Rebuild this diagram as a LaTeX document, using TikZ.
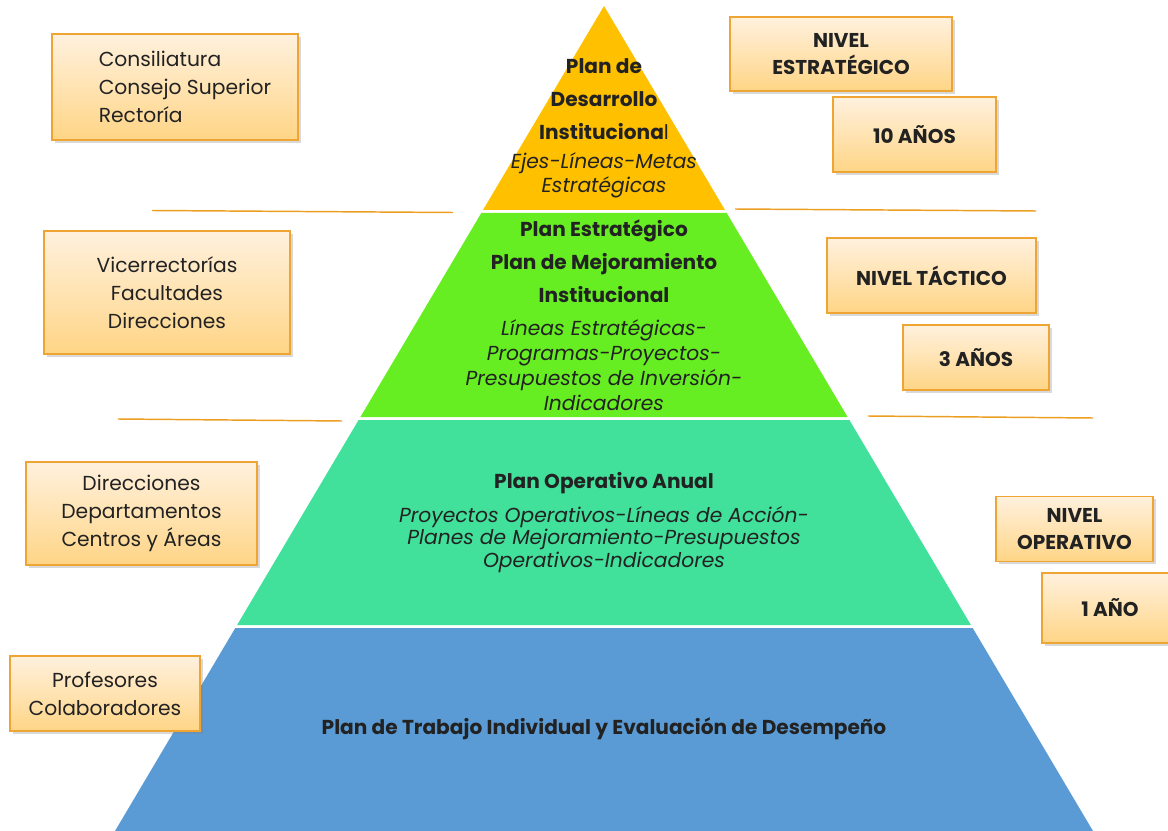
\documentclass[tikz,border=0pt]{standalone}
\usepackage{fontspec}
\setmainfont{Poppins}
\usetikzlibrary{shadows}

\definecolor{boxline}{HTML}{EFA534}
\definecolor{boxtop}{HTML}{FFF1DE}
\definecolor{boxbot}{HTML}{FFD586}
\definecolor{rule}{HTML}{EC9E22}
\definecolor{topcol}{HTML}{FFC000}
\definecolor{tactcol}{HTML}{66EE22}
\definecolor{opcol}{HTML}{41E09B}
\definecolor{basecol}{HTML}{5B9BD5}
\definecolor{ink}{HTML}{222222}

\begin{document}
\begin{tikzpicture}[x=0.75pt,y=-0.75pt,
  sz/.style 2 args={minimum width={#1*0.75pt},minimum height={#2*0.75pt}},
  infobox/.style={draw=boxline,thick,top color=boxtop,bottom color=boxbot,
    drop shadow={opacity=0.3,shadow xshift=2pt,shadow yshift=-2pt},
    align=center,inner sep=0pt,text=ink,font=\fontsize{15.2}{21}\selectfont},
  levelbox/.style={infobox,font=\bfseries\fontsize{15}{20}\selectfont},
  plantext/.style={align=center,text=ink,font=\bfseries\fontsize{15.1}{24.75}\selectfont},
  desctext/.style={align=center,text=ink,font=\itshape\fontsize{15.2}{18}\selectfont},
  sepline/.style={draw=rule,line width=1.1pt}]
  \useasboundingbox (0,0) rectangle (1168,831);

  % pyramid
  \fill[topcol] (604,6) -- (725,210) -- (483,210) -- cycle;
  \fill[tactcol] (481.3,213) -- (726.7,213) -- (847.6,417) -- (360.4,417) -- cycle;
  \fill[opcol] (358.6,420) -- (849.4,420) -- (970.9,625) -- (237.1,625) -- cycle;
  \fill[basecol] (235.3,628) -- (972.7,628) -- (1093,831) -- (115,831) -- cycle;

  % separators
  \draw[sepline] (152,210.5) -- (453,212.5);
  \draw[sepline] (735,209) -- (1036,211);
  \draw[sepline] (118,419) -- (342,421);
  \draw[sepline] (868,416) -- (1093,418);

  % texts inside the pyramid
  \node[plantext] (pdi) at (604,99) {Plan de\\Desarrollo\\Instituciona\textmd{l}};
  \node[desctext] (pdidesc) at (604,175) {Ejes-Líneas-Metas\\Estratégicas};
  \node[plantext] (pe) at (604,261) {Plan Estratégico\\Plan de Mejoramiento\\Institucional};
  \node[desctext,font=\itshape\fontsize{15.2}{18.75}\selectfont] (pedesc) at (604,365.5) {Líneas Estratégicas-\\Programas-Proyectos-\\Presupuestos de Inversión-\\Indicadores};
  \node[plantext] (poa) at (604,483) {Plan Operativo Anual};
  \node[desctext,font=\itshape\fontsize{15.2}{17}\selectfont] (poadesc) at (604,539.5) {Proyectos Operativos-Líneas de Acción-\\Planes de Mejoramiento-Presupuestos\\Operativos-Indicadores};
  \node[plantext] (ptd) at (604,729) {Plan de Trabajo Individual y Evaluación de Desempeño};

  % who is in charge
  \node[infobox,sz={246}{106},align=left] (consil) at (175,87)
    {\hspace*{15pt}Consiliatura\\\hspace*{15pt}Consejo Superior\\\hspace*{15pt}Rectoría};
  \node[infobox,sz={246}{123}] (vice) at (167,292.5) {Vicerrectorías\\Facultades\\Direcciones};
  \node[infobox,sz={231}{103}] (direc) at (141.5,513.5) {Direcciones\\Departamentos\\Centros y Áreas};
  \node[infobox,sz={190}{75}] (prof) at (105,693.5) {Profesores\\Colaboradores};

  % levels and horizons
  \node[levelbox,sz={222}{74}] (nest) at (841,54) {NIVEL\\ESTRATÉGICO};
  \node[levelbox,sz={163}{75}] (ten) at (914.5,134.5) {10 AÑOS};
  \node[levelbox,sz={209}{75}] (ntac) at (931.5,275.5) {NIVEL TÁCTICO};
  \node[levelbox,sz={146}{65}] (three) at (976,357.5) {3 AÑOS};
  \node[levelbox,sz={157}{65}] (nop) at (1074.5,529) {NIVEL\\OPERATIVO};
  \node[levelbox,sz={136}{70}] (one) at (1110,608) {1 AÑO};
\end{tikzpicture}
\end{document}
